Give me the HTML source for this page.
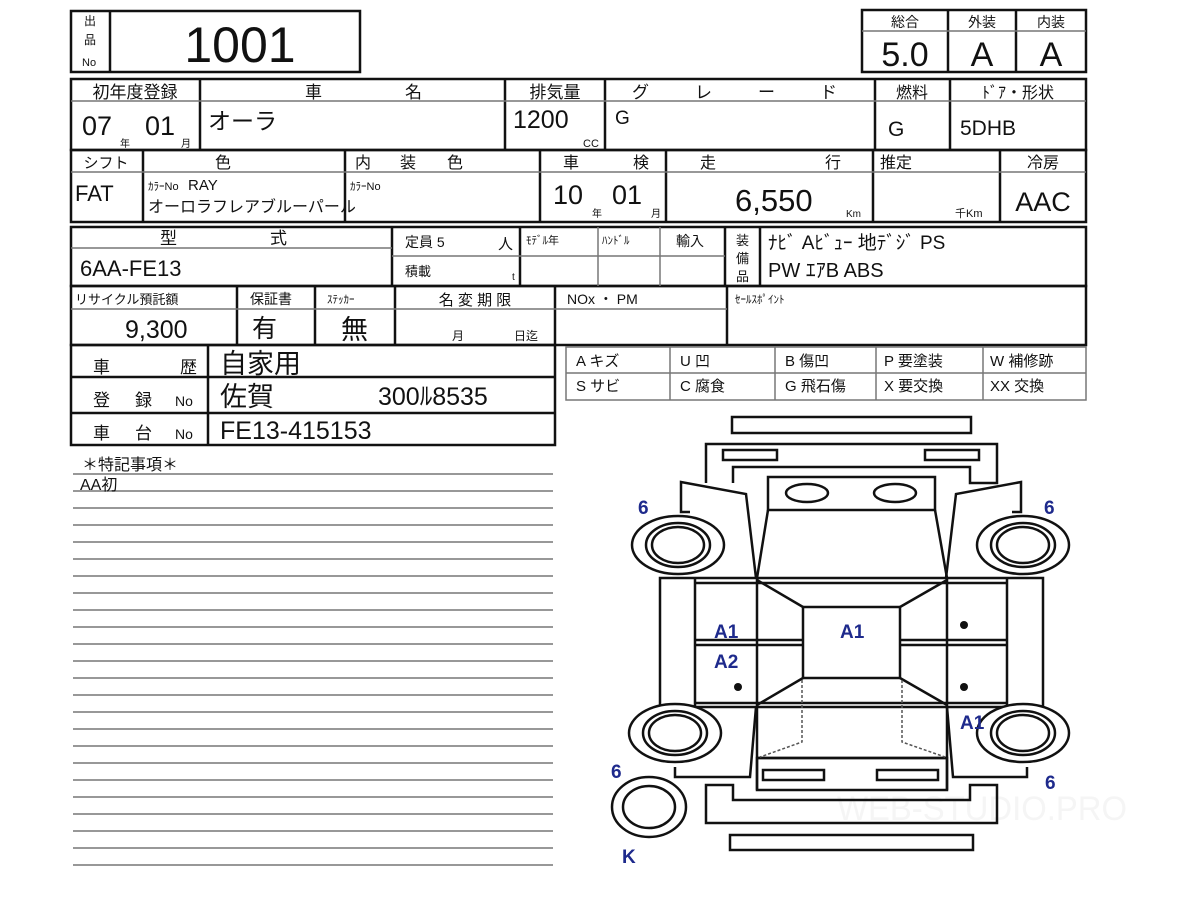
<!DOCTYPE html>
<html><head><meta charset="utf-8"><style>
html,body{margin:0;padding:0;background:#fff;width:1200px;height:900px;overflow:hidden}
svg text{font-family:"Liberation Sans","Noto Sans CJK JP",sans-serif;fill:#111}
.b{fill:#1e2a8c;font-weight:bold;font-size:19px}
</style></head><body>
<svg width="1200" height="900" viewBox="0 0 1200 900" xmlns="http://www.w3.org/2000/svg">
<g fill="none" stroke="#111" stroke-width="2.5">
<rect x="71" y="11" width="289" height="61"/><line x1="110" y1="11" x2="110" y2="72"/>
<rect x="862" y="10" width="224" height="62"/><line x1="948" y1="10" x2="948" y2="72"/><line x1="1016" y1="10" x2="1016" y2="72"/>
<rect x="71" y="79" width="1015" height="71"/>
<line x1="200" y1="79" x2="200" y2="150"/><line x1="505" y1="79" x2="505" y2="150"/><line x1="605" y1="79" x2="605" y2="150"/><line x1="875" y1="79" x2="875" y2="150"/><line x1="950" y1="79" x2="950" y2="150"/>
<rect x="71" y="150" width="1015" height="72"/>
<line x1="143" y1="150" x2="143" y2="222"/><line x1="345" y1="150" x2="345" y2="222"/><line x1="540" y1="150" x2="540" y2="222"/><line x1="666" y1="150" x2="666" y2="222"/><line x1="873" y1="150" x2="873" y2="222"/><line x1="1000" y1="150" x2="1000" y2="222"/>
<rect x="71" y="227" width="1015" height="59"/>
<line x1="392" y1="227" x2="392" y2="286"/><line x1="520" y1="227" x2="520" y2="286"/><line x1="725" y1="227" x2="725" y2="286"/><line x1="760" y1="227" x2="760" y2="286"/>
<rect x="71" y="286" width="1015" height="59"/>
<line x1="237" y1="286" x2="237" y2="345"/><line x1="315" y1="286" x2="315" y2="345"/><line x1="395" y1="286" x2="395" y2="345"/><line x1="555" y1="286" x2="555" y2="345"/><line x1="727" y1="286" x2="727" y2="345"/>
<rect x="71" y="345" width="484" height="100"/><line x1="71" y1="377" x2="555" y2="377"/><line x1="71" y1="413" x2="555" y2="413"/><line x1="208" y1="345" x2="208" y2="445"/>
</g>
<g fill="none" stroke="#777" stroke-width="1.5">
<line x1="862" y1="31" x2="1086" y2="31"/>
<line x1="71" y1="101" x2="1086" y2="101"/>
<line x1="71" y1="172" x2="1086" y2="172"/>
<line x1="71" y1="248" x2="392" y2="248"/><line x1="392" y1="256" x2="725" y2="256"/>
<line x1="598" y1="227" x2="598" y2="286"/><line x1="660" y1="227" x2="660" y2="286"/>
<line x1="71" y1="309" x2="727" y2="309"/>
<rect x="566" y="347" width="520" height="53"/><line x1="566" y1="373" x2="1086" y2="373"/>
<line x1="670" y1="347" x2="670" y2="400"/><line x1="775" y1="347" x2="775" y2="400"/><line x1="876" y1="347" x2="876" y2="400"/><line x1="983" y1="347" x2="983" y2="400"/>
<line x1="73" y1="474" x2="553" y2="474"/>
<line x1="73" y1="491" x2="553" y2="491"/><line x1="73" y1="508" x2="553" y2="508"/><line x1="73" y1="525" x2="553" y2="525"/><line x1="73" y1="542" x2="553" y2="542"/><line x1="73" y1="559" x2="553" y2="559"/><line x1="73" y1="576" x2="553" y2="576"/><line x1="73" y1="593" x2="553" y2="593"/><line x1="73" y1="610" x2="553" y2="610"/><line x1="73" y1="627" x2="553" y2="627"/><line x1="73" y1="644" x2="553" y2="644"/><line x1="73" y1="661" x2="553" y2="661"/><line x1="73" y1="678" x2="553" y2="678"/><line x1="73" y1="695" x2="553" y2="695"/><line x1="73" y1="712" x2="553" y2="712"/><line x1="73" y1="729" x2="553" y2="729"/><line x1="73" y1="746" x2="553" y2="746"/><line x1="73" y1="763" x2="553" y2="763"/><line x1="73" y1="780" x2="553" y2="780"/><line x1="73" y1="797" x2="553" y2="797"/><line x1="73" y1="814" x2="553" y2="814"/><line x1="73" y1="831" x2="553" y2="831"/><line x1="73" y1="848" x2="553" y2="848"/><line x1="73" y1="865" x2="553" y2="865"/>
</g>
<text x="84" y="25" font-size="12">出</text><text x="84" y="44" font-size="12">品</text><text x="82" y="66" font-size="11">No</text>
<text x="240" y="62" font-size="50" text-anchor="middle">1001</text>
<text x="905" y="27" font-size="14" text-anchor="middle">総合</text><text x="982" y="27" font-size="14" text-anchor="middle">外装</text><text x="1051" y="27" font-size="14" text-anchor="middle">内装</text>
<text x="905" y="66" font-size="34" text-anchor="middle">5.0</text><text x="982" y="66" font-size="34" text-anchor="middle">A</text><text x="1051" y="66" font-size="34" text-anchor="middle">A</text>
<text x="135" y="98" font-size="17" text-anchor="middle">初年度登録</text><text x="305" y="98" font-size="17">車</text><text x="405" y="98" font-size="17">名</text>
<text x="555" y="98" font-size="17" text-anchor="middle">排気量</text>
<text x="632" y="98" font-size="17">グ</text><text x="695" y="98" font-size="17">レ</text><text x="758" y="98" font-size="17">ー</text><text x="820" y="98" font-size="17">ド</text>
<text x="912" y="98" font-size="16" text-anchor="middle">燃料</text><text x="1018" y="98" font-size="16" text-anchor="middle">ﾄﾞｱ・形状</text>
<text x="82" y="135" font-size="27">07</text><text x="120" y="147" font-size="10">年</text><text x="145" y="135" font-size="27">01</text><text x="181" y="147" font-size="10">月</text>
<text x="208" y="129" font-size="23">オーラ</text>
<text x="513" y="128" font-size="25">1200</text><text x="583" y="147" font-size="11">CC</text>
<text x="615" y="124" font-size="19">G</text><text x="888" y="136" font-size="21">G</text><text x="960" y="135" font-size="21">5DHB</text>
<text x="106" y="168" font-size="15" text-anchor="middle">シフト</text><text x="215" y="168" font-size="16">色</text>
<text x="355" y="168" font-size="16">内</text><text x="400" y="168" font-size="16">装</text><text x="447" y="168" font-size="16">色</text>
<text x="563" y="168" font-size="16">車</text><text x="633" y="168" font-size="16">検</text>
<text x="700" y="168" font-size="16">走</text><text x="825" y="168" font-size="16">行</text>
<text x="880" y="168" font-size="16">推定</text><text x="1043" y="168" font-size="16" text-anchor="middle">冷房</text>
<text x="75" y="201" font-size="22">FAT</text>
<text x="148" y="190" font-size="11">ｶﾗｰNo</text><text x="188" y="190" font-size="15">RAY</text>
<text x="148" y="212" font-size="16">オーロラフレアブルーパール</text>
<text x="350" y="190" font-size="11">ｶﾗｰNo</text>
<text x="553" y="204" font-size="27">10</text><text x="592" y="217" font-size="10">年</text><text x="612" y="204" font-size="27">01</text><text x="651" y="217" font-size="10">月</text>
<text x="735" y="211" font-size="31">6,550</text><text x="846" y="217" font-size="10">Km</text>
<text x="955" y="217" font-size="11">千Km</text><text x="1043" y="211" font-size="27" text-anchor="middle">AAC</text>
<text x="160" y="244" font-size="17">型</text><text x="270" y="244" font-size="17">式</text>
<text x="80" y="276" font-size="22">6AA-FE13</text>
<text x="405" y="247" font-size="14">定員 5</text><text x="498" y="249" font-size="15">人</text>
<text x="405" y="276" font-size="13">積載</text><text x="512" y="280" font-size="10">t</text>
<text x="526" y="244" font-size="11">ﾓﾃﾞﾙ年</text><text x="602" y="244" font-size="11">ﾊﾝﾄﾞﾙ</text><text x="676" y="246" font-size="14">輸入</text>
<text x="736" y="245" font-size="13">装</text><text x="736" y="263" font-size="13">備</text><text x="736" y="281" font-size="13">品</text>
<text x="768" y="249" font-size="19">ﾅﾋﾞ Aﾋﾞｭｰ 地ﾃﾞｼﾞ PS</text><text x="768" y="277" font-size="20">PW ｴｱB ABS</text>
<text x="75" y="304" font-size="13">リサイクル預託額</text><text x="250" y="304" font-size="14">保証書</text><text x="327" y="303" font-size="11">ｽﾃｯｶｰ</text>
<text x="475" y="305" font-size="15" text-anchor="middle">名 変 期 限</text>
<text x="567" y="304" font-size="14">NOx ・ PM</text><text x="735" y="303" font-size="11">ｾｰﾙｽﾎﾟｲﾝﾄ</text>
<text x="125" y="338" font-size="25">9,300</text><text x="252" y="337" font-size="25">有</text><text x="341" y="339" font-size="27">無</text>
<text x="452" y="340" font-size="12">月</text><text x="514" y="340" font-size="12">日迄</text>
<text x="93" y="373" font-size="17">車</text><text x="180" y="373" font-size="17">歴</text>
<text x="93" y="406" font-size="17">登</text><text x="135" y="406" font-size="17">録</text><text x="175" y="406" font-size="14">No</text>
<text x="93" y="439" font-size="17">車</text><text x="135" y="439" font-size="17">台</text><text x="175" y="439" font-size="14">No</text>
<text x="220" y="373" font-size="27">自家用</text><text x="220" y="406" font-size="27">佐賀</text><text x="378" y="405" font-size="25">300ﾙ8535</text>
<text x="220" y="439" font-size="25">FE13-415153</text>
<g font-size="15">
<text x="576" y="366">A  キズ</text><text x="680" y="366">U  凹</text><text x="785" y="366">B  傷凹</text><text x="884" y="366">P  要塗装</text><text x="990" y="366">W  補修跡</text>
<text x="576" y="391">S  サビ</text><text x="680" y="391">C  腐食</text><text x="785" y="391">G  飛石傷</text><text x="884" y="391">X  要交換</text><text x="990" y="391">XX 交換</text>
</g>
<text x="82" y="470" font-size="16">＊特記事項＊</text><text x="80" y="490" font-size="16">AA初</text>
<text x="982" y="820" font-size="34" text-anchor="middle" textLength="290" lengthAdjust="spacingAndGlyphs" style="fill:#f5f5f5">WEB-STUDIO.PRO</text>
<g fill="none" stroke="#111" stroke-width="2.5">
<rect x="732" y="417" width="239" height="16"/>
<path d="M706,483 L706,444 L997,444 L997,483 L970,483 L970,467 L733,467 L733,483"/>
<rect x="723" y="450" width="54" height="10"/><rect x="925" y="450" width="54" height="10"/>
<rect x="768" y="477" width="167" height="33"/>
<ellipse cx="807" cy="493" rx="21" ry="9"/><ellipse cx="895" cy="493" rx="21" ry="9"/>
<path d="M768,510 L757,578 M935,510 L947,578"/>
<path d="M690,512 L681,512 L681,482 L746,494 L756,578"/>
<path d="M1012,512 L1021,512 L1021,482 L956,494 L946,578"/>
<ellipse cx="678" cy="545" rx="46" ry="29"/><ellipse cx="678" cy="545" rx="32" ry="22"/><ellipse cx="678" cy="545" rx="26" ry="18"/>
<ellipse cx="1023" cy="545" rx="46" ry="29"/><ellipse cx="1023" cy="545" rx="32" ry="22"/><ellipse cx="1023" cy="545" rx="26" ry="18"/>
<rect x="660" y="578" width="383" height="129" fill="#fff"/>
<line x1="695" y1="578" x2="695" y2="707"/><line x1="1007" y1="578" x2="1007" y2="707"/>
<line x1="695" y1="583" x2="1007" y2="583"/><line x1="695" y1="703" x2="1007" y2="703"/>
<line x1="757" y1="578" x2="757" y2="790"/><line x1="947" y1="578" x2="947" y2="790"/>
<line x1="695" y1="640" x2="803" y2="640"/><line x1="695" y1="645" x2="803" y2="645"/>
<line x1="900" y1="640" x2="1007" y2="640"/><line x1="900" y1="645" x2="1007" y2="645"/>
<rect x="803" y="607" width="97" height="71" fill="#fff"/>
<path d="M757,580 L803,607 M947,580 L900,607 M757,705 L803,678 M947,705 L900,678"/>
<line x1="757" y1="758" x2="947" y2="758"/>
<rect x="757" y="758" width="190" height="32"/>
<rect x="763" y="770" width="61" height="10"/><rect x="877" y="770" width="61" height="10"/>
<path d="M756,707 L750,777 L675,777 L675,767 M947,707 L953,777 L1027,777 L1027,767"/>
<ellipse cx="675" cy="733" rx="46" ry="29" fill="#fff"/><ellipse cx="675" cy="733" rx="32" ry="22"/><ellipse cx="675" cy="733" rx="26" ry="18"/>
<ellipse cx="1023" cy="733" rx="46" ry="29" fill="#fff"/><ellipse cx="1023" cy="733" rx="32" ry="22"/><ellipse cx="1023" cy="733" rx="26" ry="18"/>
<path d="M706,785 L733,785 L733,800 L970,800 L970,785 L997,785 L997,823 L706,823 Z"/>
<rect x="730" y="835" width="243" height="15"/>
<ellipse cx="649" cy="807" rx="37" ry="30"/><ellipse cx="649" cy="807" rx="26" ry="21"/>
</g>
<g stroke="#555" stroke-width="1.5" stroke-dasharray="3,2" fill="none">
<path d="M802,680 L802,742 L760,757 M902,680 L902,742 L945,757"/>
</g>
<circle cx="738" cy="687" r="4" fill="#111"/><circle cx="964" cy="625" r="4" fill="#111"/><circle cx="964" cy="687" r="4" fill="#111"/>
<text class="b" x="638" y="514">6</text><text class="b" x="1044" y="514">6</text><text class="b" x="611" y="778">6</text><text class="b" x="1045" y="789">6</text>
<text class="b" x="714" y="638">A1</text><text class="b" x="714" y="668">A2</text><text class="b" x="840" y="638">A1</text><text class="b" x="960" y="729">A1</text>
<text class="b" x="622" y="863">K</text>
</svg>
</body></html>
